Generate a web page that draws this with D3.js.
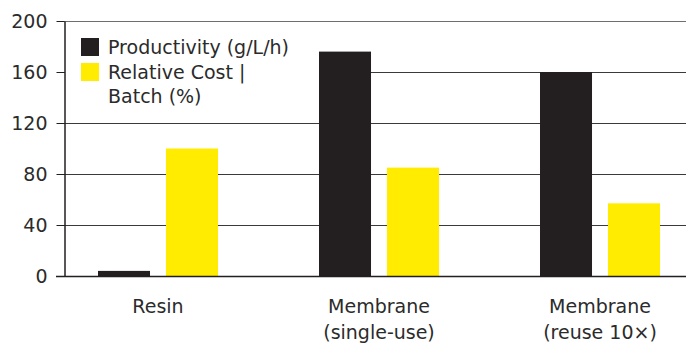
<!DOCTYPE html>
<html>
<head>
<meta charset="utf-8">
<script src="https://cdn.jsdelivr.net/npm/d3@7"></script>
<style>
  html, body { margin: 0; padding: 0; background: #fff; }
  svg { display: block; }
  text { font-family: "DejaVu Sans", sans-serif; fill: #2b2b2b; }
</style>
</head>
<body>
<div id="chart"></div>
<script>
// Chart data
const categories = [["Resin"], ["Membrane", "(single-use)"], ["Membrane", "(reuse 10×)"]];
const seriesNames = ["Productivity (g/L/h)", "Relative Cost | Batch (%)"];
const legendLines = [["Productivity (g/L/h)"], ["Relative Cost |", "Batch (%)"]];
const productivity = [4, 176, 160];
const relativeCost = [100, 85, 57];
const yTicks = [0, 40, 80, 120, 160, 200];
const colors = ["#231f20", "#ffec00"];

const W = 686, H = 343;
const plotLeft = 64, plotRight = 686, plotTop = 21, plotBottom = 276;
const fontSize = "19px";

const svg = d3.select("#chart").append("svg")
  .attr("width", W).attr("height", H);

const groupKeys = categories.map(c => c.join(" "));
const x0 = d3.scaleBand().domain(groupKeys).range([47.5, 710.5]).padding(0);
const x1 = d3.scaleBand().domain(seriesNames).range([-60, 60]).paddingInner(0.235).paddingOuter(0);
const y = d3.scaleLinear().domain([0, 200]).range([plotBottom, plotTop]);

// Horizontal gridlines
svg.append("g").selectAll("line")
  .data(yTicks.filter(t => t > 0))
  .join("line")
  .attr("x1", plotLeft).attr("x2", plotRight)
  .attr("y1", d => Math.round(y(d)) + 0.5).attr("y2", d => Math.round(y(d)) + 0.5)
  .attr("stroke", d => d === 200 ? "#6e6e6e" : "#3a3a3a").attr("stroke-width", 1);

// Legend backdrop hides the gridline behind the legend text
svg.append("rect")
  .attr("x", plotLeft + 1).attr("y", 30).attr("width", 254).attr("height", 82)
  .attr("fill", "#fff");

// Bars
const rows = groupKeys.map((k, i) => ({ key: k, values: [productivity[i], relativeCost[i]] }));
const groups = svg.append("g").selectAll("g")
  .data(rows).join("g")
  .attr("transform", d => `translate(${x0(d.key) + x0.bandwidth() / 2},0)`);
groups.selectAll("rect")
  .data(d => d.values.map((v, j) => ({ series: seriesNames[j], value: v, j })))
  .join("rect")
  .attr("x", d => x1(d.series))
  .attr("width", x1.bandwidth())
  .attr("y", d => y(d.value))
  .attr("height", d => y(0) - y(d.value))
  .attr("fill", d => colors[d.j]);

// Y axis
const yAxis = d3.axisLeft(y).tickValues(yTicks).tickSize(8).tickPadding(9).tickSizeOuter(0);
const gy = svg.append("g").attr("transform", `translate(${plotLeft + 0.5},0)`).call(yAxis);
gy.select(".domain").attr("stroke", "#231f20").attr("stroke-width", 1.5);
gy.selectAll(".tick line").attr("stroke", "#231f20").attr("stroke-width", 1);
gy.selectAll(".tick text").style("font-size", fontSize).attr("fill", "#2b2b2b")
  .style("font-family", "'DejaVu Sans', sans-serif");

// Baseline
svg.append("line")
  .attr("x1", plotLeft - 8).attr("x2", plotRight)
  .attr("y1", y(0) + 0.5).attr("y2", y(0) + 0.5)
  .attr("stroke", "#231f20").attr("stroke-width", 1.5);

// Category labels
const xl = svg.append("g");
categories.forEach((lines, i) => {
  const cx = x0(groupKeys[i]) + x0.bandwidth() / 2;
  const t = xl.append("text").attr("text-anchor", "middle").style("font-size", fontSize);
  lines.forEach((ln, k) => {
    t.append("tspan").attr("x", cx).attr("y", 313 + k * 26).text(ln);
  });
});

// Legend
const lg = svg.append("g").attr("transform", "translate(81,38)");
legendLines.forEach((lines, i) => {
  const yy = i * 25;
  lg.append("rect").attr("x", 0).attr("y", yy).attr("width", 18).attr("height", 18).attr("fill", colors[i]);
  const t = lg.append("text").style("font-size", fontSize);
  lines.forEach((ln, k) => {
    t.append("tspan").attr("x", 27).attr("y", yy + 16 + k * 24).text(ln);
  });
});
</script>
</body>
</html>
